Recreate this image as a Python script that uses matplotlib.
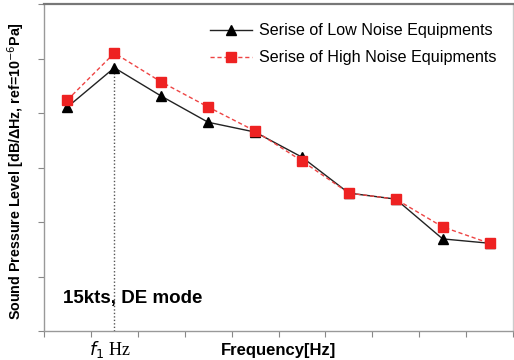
import matplotlib.pyplot as plt

positions = list(range(10))
low_noise = [4.11, 4.83, 4.31, 3.83, 3.65, 3.19, 2.53, 2.42, 1.69, 1.61]
high_noise = [4.24, 5.10, 4.57, 4.11, 3.67, 3.12, 2.53, 2.42, 1.91, 1.61]
peak_index = 1

plt.rcParams['font.family'] = ['Liberation Sans', 'DejaVu Sans']

fig = plt.figure(figsize=(5.14, 3.6), dpi=100)
ax = fig.add_axes([44 / 514, 29 / 360, 469 / 514, 327 / 360])

ax.plot(positions, low_noise, color='#222222', lw=1.0, marker='^', ms=7,
        markerfacecolor='black', markeredgecolor='black',
        label='Serise of Low Noise Equipments', zorder=3)
ax.plot(positions, high_noise, color='#ee4444', lw=1.0, ls=(0, (3, 2)), marker='s', ms=7,
        markerfacecolor='#ee2222', markeredgecolor='#ee2222',
        label='Serise of High Noise Equipments', zorder=4)

# dotted line from the peak down to the axis
ax.plot([positions[peak_index]] * 2, [0, low_noise[peak_index]], color='#555555',
        lw=1.0, ls=(0, (1, 1.5)), zorder=2)

ax.set_xlim(-0.5, 9.5)
ax.set_ylim(0, 6)
ax.set_xticks([i - 0.5 for i in range(11)])
ax.set_yticks(range(7))
ax.set_xticklabels([])
ax.set_yticklabels([])
ax.tick_params(axis='both', direction='out', length=4, width=0.8, color='#888888')

for side in ['left', 'bottom']:
    ax.spines[side].set_color('#999999')
    ax.spines[side].set_linewidth(1.0)
ax.spines['top'].set_color('#777777')
ax.spines['top'].set_linewidth(1.6)
ax.spines['right'].set_color('#cccccc')
ax.spines['right'].set_linewidth(1.0)

ax.text(0.04, 0.10, '15kts, DE mode', transform=ax.transAxes, fontsize=13.5,
        fontweight='bold', va='center', ha='left')

fig.text(16 / 514, 0.525, 'Sound Pressure Level [dB/\u0394Hz, ref=10$^{-6}$Pa]',
         rotation=90, fontsize=10.3, fontweight='bold', ha='center', va='center')
fig.text(110 / 514, 10 / 360, '$f_1$ Hz', family='Liberation Serif', fontsize=13,
         ha='center', va='center')
fig.text(278 / 514, 10 / 360, 'Frequency[Hz]', fontsize=12, fontweight='bold',
         ha='center', va='center')

ax.legend(loc='upper right', frameon=False, fontsize=11.6, handlelength=2.6,
          handletextpad=0.4, labelspacing=0.75, bbox_to_anchor=(0.995, 0.985))

fig.savefig('out.png', dpi=100)
